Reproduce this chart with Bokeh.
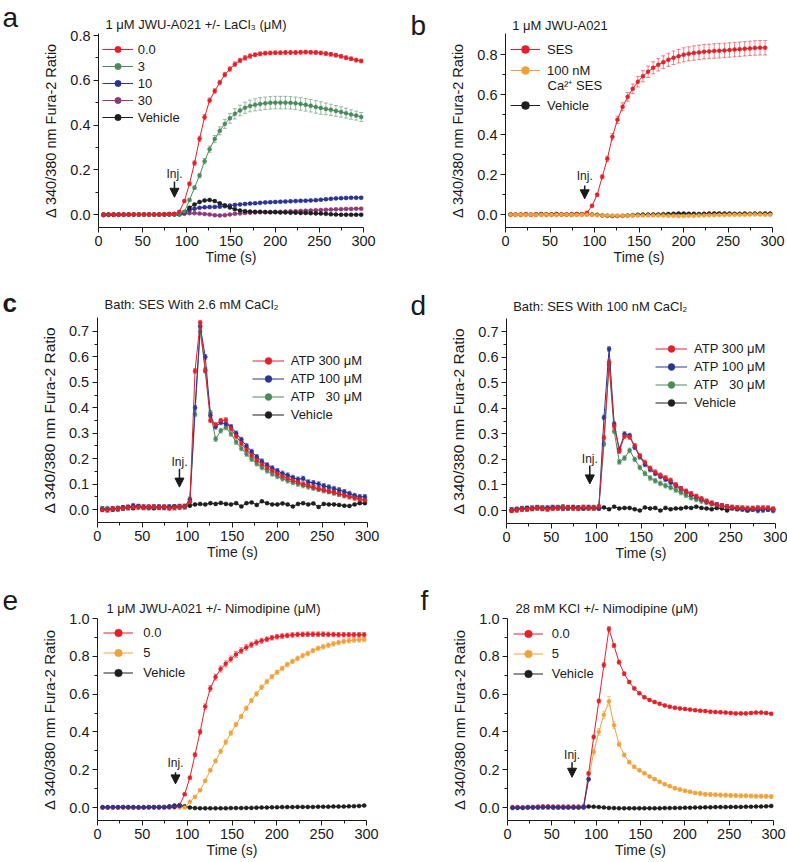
from bokeh.plotting import figure
from bokeh.models import (ColumnDataSource, Range1d, FixedTicker, PrintfTickFormatter,
                          Legend, LegendItem, Label, Arrow, NormalHead, Whisker, TeeHead)
from bokeh.core.properties import value
from bokeh.layouts import column, row
from bokeh.embed import file_html
from bokeh.resources import INLINE

FONT = "Liberation Sans"
INK = "#1a1a1a"
RED = "#e3202a"
GREEN = "#4b8a5d"
BLUE = "#2b3591"
PURPLE = "#8c3a78"
ORANGE = "#f0a23a"
BLACK = "#1e1e1e"

# sampling times (s)
T = [5.7, 11.4, 17.2, 22.9, 28.6, 34.3, 40.0, 45.8, 51.5, 57.2, 62.9, 68.6, 74.4, 80.1,
     85.8, 91.5, 97.2, 103.0, 108.7, 114.4, 120.1, 125.8, 131.6, 137.3, 143.0, 148.7,
     154.4, 160.2, 165.9, 171.6, 177.3, 183.0, 188.8, 194.5, 200.2, 205.9, 211.6, 217.4,
     223.1, 228.8, 234.5, 240.2, 246.0, 251.7, 257.4, 263.1, 268.8, 274.6, 280.3, 286.0,
     291.7, 297.4]

X_TICKS = [0, 50, 100, 150, 200, 250, 300]
X_MINOR = [25, 75, 125, 175, 225, 275]
Y_TICKS_08 = [0.0, 0.2, 0.4, 0.6, 0.8]
Y_MINOR_08 = [0.1, 0.3, 0.5, 0.7]
Y_TICKS_07 = [0.0, 0.1, 0.2, 0.3, 0.4, 0.5, 0.6, 0.7]
Y_MINOR_07 = [0.05, 0.15, 0.25, 0.35, 0.45, 0.55, 0.65]
Y_TICKS_10 = [0.0, 0.2, 0.4, 0.6, 0.8, 1.0]
Y_MINOR_10 = [0.1, 0.3, 0.5, 0.7, 0.9]

# ---------------- panel a : 1 uM JWU-A021 +/- LaCl3 ----------------
A_RED = [0.0, 0.0, 0.0, 0.0, 0.0, 0.0, 0.0, 0.0, 0.0, 0.0, 0.0, 0.0, 0.001, 0.002, 0.003,
         0.012, 0.06, 0.137, 0.23, 0.338, 0.435, 0.51, 0.552, 0.59, 0.625, 0.65, 0.672, 0.688,
         0.70, 0.708, 0.714, 0.718, 0.721, 0.722,
         0.723, 0.723, 0.724, 0.724, 0.724, 0.725, 0.726, 0.725, 0.724, 0.722, 0.719, 0.716,
         0.712, 0.707, 0.701, 0.696, 0.69, 0.686]
A_RED_ERR = [0.003] * 15 + [0.004, 0.006, 0.008, 0.01, 0.012, 0.012, 0.011] + [0.01] * 8 + [0.008] * 22
A_GREEN = [0.0, 0.0, 0.0, 0.0, 0.0, 0.0, 0.0, 0.0, 0.0, 0.0, 0.0, 0.0, 0.0, 0.0, 0.001, 0.002,
           0.012, 0.065, 0.12, 0.174, 0.238, 0.292, 0.337, 0.374, 0.405, 0.43, 0.45, 0.465,
           0.477, 0.485, 0.49, 0.494, 0.497, 0.499, 0.5, 0.5, 0.5, 0.499, 0.497, 0.494, 0.49,
           0.486, 0.481, 0.476, 0.472, 0.468, 0.463, 0.458, 0.453, 0.447, 0.442, 0.436]
A_GREEN_ERR = ([0.003] * 16 + [0.004, 0.006, 0.008, 0.01, 0.012, 0.014, 0.016, 0.018, 0.02, 0.022,
               0.023, 0.024, 0.025, 0.026, 0.027, 0.028] + [0.028] * 12 +
               [0.026, 0.025, 0.024, 0.023, 0.022, 0.021, 0.02, 0.02])
A_BLUE = [0.0, 0.0, 0.0, 0.0, 0.0, 0.0, 0.0, 0.0, 0.0, 0.0, 0.0, 0.0, 0.0, 0.001, 0.001, 0.002,
          0.008, 0.02, 0.026, 0.03, 0.032, 0.033, 0.034, 0.035, 0.037, 0.04, 0.043, 0.045, 0.047,
          0.049, 0.05, 0.052, 0.054, 0.055, 0.056, 0.057, 0.058, 0.059, 0.06, 0.061, 0.062,
          0.063, 0.064, 0.066, 0.068, 0.07, 0.072, 0.073, 0.074, 0.075, 0.075, 0.075]
A_PURPLE = [0.0, 0.0, 0.0, 0.0, 0.0, 0.0, 0.0, 0.0, 0.0, 0.0, 0.0, 0.0, 0.0, 0.0, 0.0, 0.0,
            0.003, 0.006, 0.006, 0.004, 0.002, 0.0, -0.003, -0.004, -0.003, 0.0, 0.003, 0.005,
            0.007, 0.008, 0.009, 0.01, 0.01, 0.011, 0.012, 0.012, 0.013, 0.014, 0.015, 0.016,
            0.017, 0.018, 0.019, 0.02, 0.021, 0.022, 0.023, 0.024, 0.025, 0.025, 0.026, 0.026]
A_BLACK = [-0.003, -0.002, -0.002, -0.001, -0.001, 0.0, 0.0, 0.0, 0.0, 0.0, 0.0, 0.0, 0.0,
           0.001, 0.001, 0.002,
           0.01, 0.03, 0.045, 0.056, 0.063, 0.065, 0.06, 0.05, 0.041, 0.031, 0.024, 0.018,
           0.015, 0.013, 0.012, 0.012, 0.011, 0.01, 0.01, 0.009, 0.009, 0.008, 0.008, 0.007,
           0.007, 0.006, 0.005, 0.004, 0.003, 0.001, 0.0, -0.001, -0.001, -0.001, -0.001, -0.001]

# ---------------- panel b : 1 uM JWU-A021 ----------------
B_RED = [0.0, 0.001, 0.0, 0.001, 0.0, 0.0, 0.001, 0.0, 0.0, 0.0, 0.001, 0.0, 0.0, 0.001, 0.002,
         0.01, 0.045, 0.1, 0.19, 0.28, 0.39, 0.475, 0.54, 0.59, 0.63, 0.665, 0.693, 0.715, 0.735,
         0.75, 0.763, 0.775, 0.785, 0.793, 0.8, 0.805, 0.809, 0.812, 0.815, 0.817, 0.819, 0.82,
         0.822, 0.824, 0.826, 0.828, 0.83, 0.832, 0.834, 0.835, 0.835]
B_RED_ERR = ([0.003] * 16 + [0.005, 0.008, 0.01, 0.013, 0.016, 0.018, 0.02, 0.022, 0.024, 0.026,
             0.028, 0.029, 0.03, 0.031, 0.032, 0.033, 0.034, 0.034, 0.035, 0.035] + [0.036] * 15)
B_ORANGE = [0.0, 0.0, 0.001, 0.0, 0.001, 0.0, 0.0, 0.001, 0.0, 0.0, 0.001, 0.0, 0.0, 0.0, 0.0,
            0.0, 0.0, -0.002, -0.003, -0.004, -0.004, -0.005, -0.005, -0.005, -0.004, -0.004,
            -0.004, -0.003, -0.003, -0.003, -0.004, -0.005, -0.005, -0.006, -0.006, -0.005,
            -0.005, -0.004, -0.003, -0.002, -0.002, -0.001, -0.001, 0.0, 0.0, 0.0, 0.0, 0.001,
            0.001, 0.001, 0.0, 0.0]
B_BLACK = [0.002, 0.001, 0.002, 0.003, 0.002, 0.003, 0.004, 0.003, 0.003, 0.004, 0.003, 0.002,
           0.003, 0.004, 0.003, 0.003, 0.002, 0.0, -0.003, -0.005, -0.006, -0.006, -0.005,
           -0.004, -0.002, 0.0, 0.001, 0.001, 0.002, 0.002, 0.003, 0.004, 0.005, 0.006, 0.006,
           0.005, 0.005, 0.004, 0.005, 0.006, 0.007, 0.007, 0.006, 0.006, 0.005, 0.005, 0.006,
           0.005, 0.006, 0.006, 0.007, 0.006]

# ---------------- panel c : bath SES with 2.6 mM CaCl2 ----------------
C_RED = [0.0, -0.002, 0.002, 0.003, 0.005, 0.008, 0.008, 0.01, 0.008, 0.01, 0.01, 0.008, 0.01,
         0.005, 0.008, 0.01, 0.012,
         0.03, 0.545, 0.735, 0.545, 0.35, 0.333, 0.35, 0.352, 0.318, 0.288, 0.26, 0.235, 0.213,
         0.194, 0.178, 0.164, 0.152, 0.141, 0.131, 0.122, 0.114, 0.107, 0.1, 0.094, 0.088,
         0.082, 0.077, 0.072, 0.067, 0.062, 0.055, 0.05, 0.045, 0.04, 0.036]
C_BLUE = [0.002, 0.0, 0.003, 0.002, 0.006, 0.008, 0.015, 0.012, 0.01, 0.008, 0.01, 0.01, 0.008,
          0.01, 0.01, 0.012, 0.012,
          0.04, 0.40, 0.72, 0.60, 0.37, 0.325, 0.342, 0.336, 0.325, 0.30, 0.275, 0.25, 0.228,
          0.207, 0.19, 0.175, 0.163, 0.152, 0.142, 0.135, 0.126, 0.119, 0.122, 0.108, 0.105,
          0.1, 0.093, 0.088, 0.082, 0.077, 0.07, 0.063, 0.055, 0.05, 0.05]
C_GREEN = [0.003, 0.004, 0.002, 0.005, 0.006, 0.007, 0.01, 0.01, 0.008, 0.007, 0.008, 0.009,
           0.008, 0.01, 0.007, 0.01, 0.01,
           0.03, 0.375, 0.70, 0.55, 0.38, 0.277, 0.31, 0.322, 0.297, 0.265, 0.24, 0.218, 0.198,
           0.18, 0.165, 0.152, 0.14, 0.13, 0.121, 0.113, 0.106, 0.1, 0.094, 0.089, 0.084,
           0.079, 0.074, 0.07, 0.065, 0.06, 0.056, 0.052, 0.048, 0.042, 0.038]
C_BLACK = [0.0, 0.002, 0.0, 0.005, 0.008, 0.01, 0.005, 0.012, 0.008, 0.01, 0.005, 0.008, 0.01,
           0.008, 0.012, 0.01, 0.012,
           0.015, 0.02, 0.022, 0.02, 0.025, 0.022, 0.026, 0.022, 0.02, 0.025, 0.012, 0.025,
           0.028, 0.018, 0.032, 0.025, 0.02, 0.02, 0.024, 0.02, 0.012, 0.022, 0.025, 0.02,
           0.024, 0.01, 0.022, 0.02, 0.02, 0.018, 0.015, 0.014, 0.02, 0.025, 0.025]

# ---------------- panel d : bath SES with 100 nM CaCl2 ----------------
D_RED = [0.0, 0.002, 0.005, 0.005, 0.008, 0.01, 0.008, 0.005, 0.008, 0.01, 0.01, 0.012, 0.01,
         0.008, 0.012, 0.01, 0.01,
         0.015, 0.285, 0.58, 0.33, 0.232, 0.29, 0.287, 0.253, 0.214, 0.188, 0.165, 0.15, 0.138,
         0.128, 0.118, 0.1, 0.085, 0.075, 0.065, 0.055, 0.045, 0.036, 0.028, 0.022, 0.018,
         0.015, 0.012, 0.01, 0.01, 0.008, 0.008, 0.01, 0.01, 0.01, 0.005]
D_BLUE = [0.003, 0.004, 0.006, 0.008, 0.008, 0.01, 0.008, 0.01, 0.012, 0.01, 0.008, 0.01, 0.012,
          0.01, 0.01, 0.012, 0.01,
          0.01, 0.364, 0.632, 0.338, 0.24, 0.299, 0.293, 0.247, 0.21, 0.18, 0.16, 0.145, 0.133,
          0.122, 0.11, 0.098, 0.085, 0.074, 0.063, 0.053, 0.044, 0.035, 0.028, 0.022, 0.018,
          0.013, 0.01, 0.008, 0.005, 0.003, 0.005, 0.0, 0.002, 0.005, 0.0]
D_GREEN = [0.002, 0.004, 0.008, 0.006, 0.01, 0.012, 0.01, 0.008, 0.01, 0.012, 0.014, 0.01,
           0.008, 0.01, 0.012, 0.01, 0.012,
           0.012, 0.26, 0.57, 0.31, 0.19, 0.205, 0.235, 0.2, 0.168, 0.145, 0.127, 0.116, 0.106,
           0.097, 0.09, 0.08, 0.07, 0.06, 0.05, 0.043, 0.037, 0.032, 0.027, 0.022, 0.018,
           0.014, 0.012, 0.01, 0.008, 0.008, 0.008, 0.008, 0.007, 0.006, 0.005]
D_BLACK = [0.0, 0.005, 0.008, 0.01, 0.008, 0.012, 0.01, 0.008, 0.01, 0.012, 0.015, 0.01, 0.012,
           0.01, 0.008, 0.01, 0.01, 0.008, 0.012, 0.005, 0.015, 0.008, 0.01, 0.01, 0.005, 0.0,
           0.012, 0.008, 0.01, 0.0, 0.01, 0.005, 0.008, 0.008, 0.012, 0.01, 0.015, 0.01, 0.008,
           0.005, 0.01, 0.008, 0.0, 0.01, 0.005, 0.008, 0.0, 0.005, 0.008, 0.005, 0.005, 0.005]

# ---------------- panel e : 1 uM JWU-A021 +/- nimodipine ----------------
E_RED = [0.0, 0.0, 0.001, 0.0, 0.001, 0.0, 0.001, 0.0, 0.0, 0.001, 0.001, 0.0, 0.001, 0.002,
         0.003,
         0.012, 0.07, 0.158, 0.279, 0.40, 0.534, 0.63, 0.69, 0.733, 0.76, 0.786, 0.81, 0.83,
         0.847, 0.861, 0.873, 0.882, 0.89, 0.898, 0.903, 0.907, 0.91, 0.913, 0.915, 0.916,
         0.917, 0.917, 0.917, 0.917, 0.916, 0.915, 0.914, 0.914, 0.914, 0.914, 0.914, 0.914]
E_RED_ERR = ([0.002] * 15 + [0.004, 0.006, 0.008, 0.01, 0.012, 0.014, 0.015, 0.016, 0.016, 0.016,
             0.016, 0.016, 0.015, 0.015, 0.014, 0.014, 0.013, 0.013, 0.012] + [0.012] * 18)
E_ORANGE = [0.0] * 17 + [
    0.03, 0.056, 0.091, 0.141, 0.197, 0.246, 0.297, 0.346, 0.394, 0.439, 0.482, 0.525, 0.566,
    0.601, 0.636, 0.666, 0.692, 0.715, 0.736, 0.756, 0.773, 0.789, 0.803, 0.815, 0.83, 0.842,
    0.85, 0.859, 0.866, 0.873, 0.879, 0.882, 0.886, 0.887, 0.889]
E_ORANGE_ERR = [0.003] * 17 + [0.005, 0.006, 0.007, 0.008, 0.009, 0.01, 0.011] + [0.012] * 28
E_BLACK = [0.0, 0.0, 0.0, 0.0, 0.001, 0.001, 0.0, 0.0, 0.001, 0.002, 0.002, 0.003, 0.003,
           0.006, 0.01, 0.012, 0.006, 0.0, -0.003,
           -0.004, -0.004, -0.004, -0.004, -0.004, -0.004, -0.003, -0.003, -0.003, -0.002,
           -0.002, -0.001, 0.0, 0.0, 0.001, 0.001, 0.002, 0.002, 0.002, 0.003, 0.003,
           0.003, 0.003, 0.004, 0.004, 0.004, 0.005, 0.005, 0.005, 0.006, 0.007, 0.008, 0.01]
E_BLUE = [0.002, 0.002, 0.002, 0.002, 0.002, 0.002, 0.002, 0.001, 0.001, 0.001, 0.001, 0.001,
          0.001, 0.002, 0.004, 0.008]

# ---------------- panel f : 28 mM KCl +/- nimodipine ----------------
F_RED = [0.002, 0.002, 0.0, 0.003, 0.003, 0.005, 0.006, 0.006, 0.005, 0.005, 0.005, 0.005,
         0.005, 0.005, 0.006,
         0.18, 0.373, 0.563, 0.754, 0.945, 0.857, 0.769, 0.708, 0.664, 0.63, 0.604, 0.583,
         0.569, 0.558, 0.549, 0.54, 0.533, 0.528, 0.524, 0.521, 0.518, 0.515, 0.512, 0.51,
         0.507, 0.505, 0.504, 0.502, 0.5, 0.498, 0.498, 0.498, 0.5, 0.502, 0.502, 0.5, 0.496]
F_RED_ERR = [0.003] * 15 + [0.008, 0.01, 0.01, 0.012, 0.012, 0.01, 0.01, 0.009, 0.008] + [0.007] * 28
F_ORANGE = [0.0] * 15 + [
    0.15, 0.293, 0.40, 0.49, 0.562, 0.435, 0.335, 0.278, 0.24, 0.215, 0.197, 0.181, 0.164,
    0.15, 0.136, 0.123, 0.113, 0.102, 0.095, 0.088, 0.083, 0.077, 0.074, 0.07, 0.069, 0.067,
    0.066, 0.065, 0.064, 0.063, 0.062, 0.062, 0.061, 0.06, 0.06, 0.059, 0.058]
F_ORANGE_ERR = ([0.003] * 15 + [0.012, 0.015, 0.018, 0.02, 0.025, 0.018, 0.012, 0.01, 0.009, 0.008]
                + [0.008] * 12 + [0.01] * 15)
F_BLACK = [0.0] * 15 + [
    0.005, 0.004, 0.002, 0.0, -0.002, -0.003, -0.004, -0.004, -0.004, -0.004, -0.004, -0.004,
    -0.004, -0.004, -0.004, -0.003, -0.003, -0.002, -0.002, -0.001, -0.001, 0.0, 0.0, 0.001,
    0.001, 0.002, 0.002, 0.002, 0.003, 0.003, 0.003, 0.004, 0.004, 0.005, 0.005, 0.006, 0.008]
F_BLUE = [-0.003, -0.002, -0.002, 0.0, 0.0, 0.0, 0.001, 0.001, 0.0, 0.0, 0.0, 0.0, 0.0, 0.0,
          0.001, 0.15]

# injection markers: (time, arrow top, arrow tip, text baseline)
INJ_A = (86.0, 0.147, 0.077, 0.182)
INJ_B = (89.0, 0.146, 0.080, 0.196)
INJ_C = (91.4, 0.160, 0.088, 0.186)
INJ_D = (92.9, 0.176, 0.104, 0.202)
INJ_E = (87.0, 0.187, 0.125, 0.235)
INJ_F = (72.8, 0.240, 0.160, 0.280)

YLAB = "\u0394 340/380 nm Fura-2 Ratio"

# page geometry of each panel: canvas box (x0, y0, w, h), pixel of t=0, px per s,
# pixel of ratio 0, px per ratio unit, pixel rows of x-axis line and of y-axis top
GEOM = {
    "a": dict(box=(0, 0, 393, 282), t0=98.0, sx=0.8833, v0=214.0, sy=223.75, lo=227.0, hi=33.0),
    "b": dict(box=(393, 0, 394, 282), t0=505.0, sx=0.89, v0=214.3, sy=200.0, lo=227.0, hi=33.0),
    "c": dict(box=(0, 282, 393, 290), t0=96.7, sx=0.90, v0=509.0, sy=254.3, lo=522.0, hi=317.0),
    "d": dict(box=(393, 282, 394, 290), t0=506.0, sx=0.8967, v0=510.0, sy=255.7, lo=523.0, hi=318.0),
    "e": dict(box=(0, 572, 393, 290), t0=97.0, sx=0.8967, v0=807.0, sy=189.0, lo=820.0, hi=617.5),
    "f": dict(box=(393, 572, 394, 290), t0=507.0, sx=0.8867, v0=807.0, sy=189.0, lo=820.0, hi=617.5),
}


class Panel:
    def __init__(self, key, yticks, yminor, ylab_size):
        g = GEOM[key]
        self.g = g
        x0, y0, w, h = g["box"]
        xr = Range1d(self.dx(x0), self.dx(x0 + w))
        yr = Range1d(self.dy(y0 + h), self.dy(y0))
        p = figure(width=w, height=h, x_range=xr, y_range=yr, min_border=0,
                   output_backend="svg", toolbar_location=None, tools="", title_location=None)
        p.outline_line_color = None
        p.grid.visible = False
        p.background_fill_color = "white"
        p.border_fill_color = "white"
        p.xaxis.ticker = FixedTicker(ticks=X_TICKS, minor_ticks=X_MINOR)
        p.yaxis.ticker = FixedTicker(ticks=yticks, minor_ticks=yminor)
        p.yaxis.formatter = PrintfTickFormatter(format="%.1f")
        p.xaxis.axis_label = "Time (s)"
        p.yaxis.axis_label = YLAB
        ylo, yhi = self.dy(g["lo"]), self.dy(g["hi"])
        p.xaxis.fixed_location = ylo
        p.xaxis.bounds = (0, 300)
        p.yaxis.fixed_location = 0
        p.yaxis.bounds = (ylo, yhi)
        for ax in (p.xaxis[0], p.yaxis[0]):
            ax.axis_line_color = INK
            ax.axis_line_width = 1
            ax.major_tick_line_color = INK
            ax.minor_tick_line_color = INK
            ax.major_tick_in = 0
            ax.major_tick_out = 5
            ax.minor_tick_in = 0
            ax.minor_tick_out = 3
            ax.major_label_text_font = FONT
            ax.major_label_text_font_size = "14.5px"
            ax.major_label_text_color = INK
            ax.major_label_standoff = 3
            ax.axis_label_text_font = FONT
            ax.axis_label_text_font_style = "normal"
            ax.axis_label_text_color = INK
        p.xaxis.axis_label_text_font_size = "14px"
        p.xaxis.axis_label_standoff = 0
        p.yaxis.axis_label_text_font_size = ylab_size
        p.yaxis.axis_label_standoff = 8
        self.p = p

    # page pixel -> data
    def dx(self, px):
        return (px - self.g["t0"]) / self.g["sx"]

    def dy(self, py):
        return (self.g["v0"] - py) / self.g["sy"]

    # page pixel -> screen units of the frame (origin bottom-left)
    def sx(self, px):
        return px - self.g["box"][0]

    def sy(self, py):
        return self.g["box"][1] + self.g["box"][3] - py

    def series(self, y, err, color, t=T):
        n = len(y)
        e = err if isinstance(err, list) else [err] * n
        src = ColumnDataSource(dict(t=t[:n], y=y,
                                    hi=[a + b for a, b in zip(y, e)],
                                    lo=[a - b for a, b in zip(y, e)]))
        w = Whisker(source=src, base="t", upper="hi", lower="lo", line_color=color,
                    line_alpha=0.55, line_width=1,
                    upper_head=TeeHead(size=4, line_color=color, line_alpha=0.55, line_width=1),
                    lower_head=TeeHead(size=4, line_color=color, line_alpha=0.55, line_width=1))
        self.p.add_layout(w)
        ln = self.p.line("t", "y", source=src, line_color=color, line_width=1)
        sc = self.p.scatter("t", "y", source=src, size=4, fill_color=color, line_color=color,
                            line_width=0.5)
        return [ln, sc]

    def legend(self, items, left, top, gh, gw, standoff, spacing=1):
        n = len(items)
        height = n * gh + (n - 1) * spacing
        leg = Legend(items=[LegendItem(label=value(lab), renderers=r) for lab, r in items],
                     location=(self.sx(left), self.sy(top + height)),
                     orientation="vertical", padding=0, margin=0, spacing=spacing,
                     glyph_height=gh, glyph_width=gw, label_height=gh,
                     label_standoff=standoff,
                     label_text_font=FONT, label_text_font_size="13px", label_text_color=INK,
                     label_text_baseline="middle",
                     background_fill_alpha=0, border_line_color=None)
        self.p.add_layout(leg)

    def text(self, px, py, text, size, style="normal", baseline="alphabetic"):
        self.p.add_layout(Label(x=self.sx(px), y=self.sy(py), x_units="screen",
                                y_units="screen", text=text, text_font=FONT,
                                text_font_size=size, text_font_style=style, text_color=INK,
                                text_align="left", text_baseline=baseline))

    def inj(self, spec):
        x, y0, y1, yt = spec
        self.p.add_layout(Arrow(end=NormalHead(size=9, fill_color=INK, line_color=INK,
                                               line_width=1),
                                x_start=x, y_start=y0, x_end=x, y_end=y1, line_color=INK,
                                line_width=1.5))
        self.p.add_layout(Label(x=x, y=yt, text="Inj.", text_align="center",
                                text_baseline="alphabetic", text_font=FONT,
                                text_font_size="12px", text_color=INK))


# ---------- a ----------
A = Panel("a", Y_TICKS_08, Y_MINOR_08, "14.5px")
ra_p = A.series(A_PURPLE, 0.004, PURPLE)
ra_b = A.series(A_BLUE, 0.005, BLUE)
ra_k = A.series(A_BLACK, 0.004, BLACK)
ra_g = A.series(A_GREEN, A_GREEN_ERR, GREEN)
ra_r = A.series(A_RED, A_RED_ERR, RED)
A.legend([("0.0", ra_r), ("3", ra_g), ("10", ra_b), ("30", ra_p), ("Vehicle", ra_k)],
         101.7, 41.0, 16, 31, 5)
A.inj(INJ_A)
A.text(2, 17, "a", "28px")
A.text(105, 24.3, "1 \u03bcM JWU-A021 +/- LaCl\u2083 (\u03bcM)", "13px")

# ---------- b ----------
B = Panel("b", Y_TICKS_08, Y_MINOR_08, "14.5px")
rb_k = B.series(B_BLACK, 0.004, BLACK)
rb_r = B.series(B_RED, B_RED_ERR, RED)
rb_o = B.series(B_ORANGE, 0.004, ORANGE)
B.legend([("SES", rb_r), ("100 nM", rb_o)], 510.0, 39.3, 20, 30, 7)
B.legend([("Vehicle", rb_k)], 510.0, 95.0, 20, 30, 7)
B.text(547, 85, "Ca\u00b2\u207a SES", "13px", baseline="middle")
B.inj(INJ_B)
B.text(410, 25, "b", "28px")
B.text(511.7, 25, "1 \u03bcM JWU-A021", "13px")

# ---------- c ----------
C = Panel("c", Y_TICKS_07, Y_MINOR_07, "15.5px")
rc_k = C.series(C_BLACK, 0.004, BLACK)
rc_g = C.series(C_GREEN, 0.009, GREEN)
rc_b = C.series(C_BLUE, 0.009, BLUE)
rc_r = C.series(C_RED, 0.009, RED)
C.legend([("ATP 300 \u03bcM", rc_r), ("ATP 100 \u03bcM", rc_b),
          ("ATP \u00a0\u00a030 \u03bcM", rc_g), ("Vehicle", rc_k)],
         251.7, 351.7, 17, 32, 7)
C.inj(INJ_C)
C.text(2, 302, "c", "26px", style="bold")
C.text(104, 304, "Bath: SES With 2.6 mM CaCl\u2082", "13px")

# ---------- d ----------
D = Panel("d", Y_TICKS_07, Y_MINOR_07, "15.5px")
rd_k = D.series(D_BLACK, 0.004, BLACK)
rd_g = D.series(D_GREEN, 0.009, GREEN)
rd_b = D.series(D_BLUE, 0.009, BLUE)
rd_r = D.series(D_RED, 0.009, RED)
D.legend([("ATP 300 \u03bcM", rd_r), ("ATP 100 \u03bcM", rd_b),
          ("ATP \u00a0\u00a030 \u03bcM", rd_g), ("Vehicle", rd_k)],
         655.0, 340.3, 17, 32, 7)
D.inj(INJ_D)
D.text(410, 305, "d", "28px")
D.text(512.7, 306, "Bath: SES With 100 nM CaCl\u2082", "13px")

# ---------- e ----------
E = Panel("e", Y_TICKS_10, Y_MINOR_10, "15px")
re_k = E.series(E_BLACK, 0.003, BLACK)
re_o = E.series(E_ORANGE, E_ORANGE_ERR, ORANGE)
re_r = E.series(E_RED, E_RED_ERR, RED)
E.series(E_BLUE, 0.002, BLUE)
E.legend([("0.0", re_r), ("5", re_o), ("Vehicle", re_k)], 103.3, 623.3, 19, 30, 10)
E.inj(INJ_E)
E.text(2, 600, "e", "28px")
E.text(106, 608.3, "1 \u03bcM JWU-A021 +/- Nimodipine (\u03bcM)", "13px")

# ---------- f ----------
F = Panel("f", Y_TICKS_10, Y_MINOR_10, "15px")
rf_k = F.series(F_BLACK, 0.003, BLACK)
rf_o = F.series(F_ORANGE, F_ORANGE_ERR, ORANGE)
rf_r = F.series(F_RED, F_RED_ERR, RED)
F.series(F_BLUE, 0.002, BLUE)
F.legend([("0.0", rf_r), ("5", rf_o), ("Vehicle", rf_k)], 512.7, 623.8, 19, 30, 9)
F.inj(INJ_F)
F.text(420, 600, "f", "28px")
F.text(515, 608.3, "28 mM KCl +/- Nimodipine (\u03bcM)", "13px")

layout = column(row(A.p, B.p), row(C.p, D.p), row(E.p, F.p))
open("out.html", "w").write(file_html(layout, INLINE))
